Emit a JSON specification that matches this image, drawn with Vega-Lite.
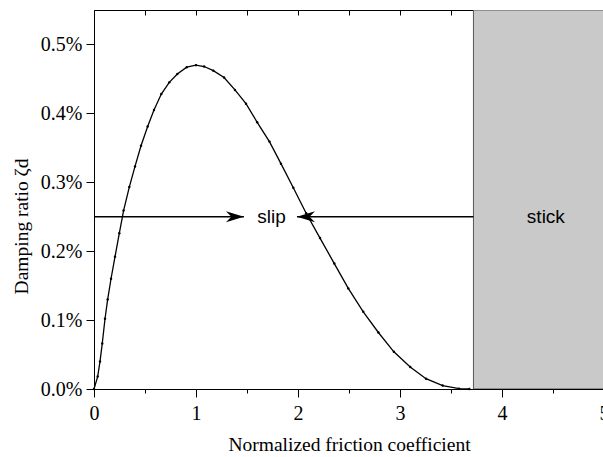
{
  "$schema": "https://vega.github.io/schema/vega-lite/v6.json",
  "width": 510,
  "height": 379,
  "autosize": "none",
  "padding": {"left": 94, "top": 10, "right": 0, "bottom": 68},
  "background": "white",
  "config": {
    "view": {"stroke": "black", "strokeWidth": 1},
    "axis": {
      "domainColor": "black",
      "tickColor": "black",
      "labelFont": "Liberation Serif",
      "labelFontSize": 20,
      "labelColor": "black",
      "titleFont": "Liberation Serif",
      "titleFontSize": 19.5,
      "titleFontWeight": "normal",
      "titleColor": "black",
      "grid": false
    }
  },
  "datasets": {
    "curve": [
      {"x": 0, "y": 0},
      {"x": 0.036, "y": 0.00018},
      {"x": 0.059, "y": 0.0004},
      {"x": 0.081, "y": 0.00066},
      {"x": 0.108, "y": 0.00102},
      {"x": 0.134, "y": 0.0013},
      {"x": 0.167, "y": 0.0016},
      {"x": 0.206, "y": 0.00192},
      {"x": 0.248, "y": 0.00226},
      {"x": 0.29, "y": 0.00259},
      {"x": 0.346, "y": 0.00293},
      {"x": 0.402, "y": 0.00323},
      {"x": 0.461, "y": 0.00353},
      {"x": 0.526, "y": 0.00381},
      {"x": 0.588, "y": 0.00405},
      {"x": 0.66, "y": 0.00428},
      {"x": 0.738, "y": 0.00445},
      {"x": 0.817, "y": 0.00457},
      {"x": 0.909, "y": 0.00467},
      {"x": 1.0, "y": 0.0047},
      {"x": 1.08, "y": 0.00468},
      {"x": 1.17, "y": 0.00462},
      {"x": 1.275, "y": 0.00452},
      {"x": 1.382, "y": 0.00434},
      {"x": 1.49, "y": 0.00414},
      {"x": 1.6, "y": 0.00387},
      {"x": 1.72, "y": 0.00359},
      {"x": 1.833, "y": 0.00327},
      {"x": 1.954, "y": 0.00292},
      {"x": 2.08, "y": 0.00255},
      {"x": 2.216, "y": 0.00219},
      {"x": 2.356, "y": 0.00182},
      {"x": 2.493, "y": 0.00146},
      {"x": 2.64, "y": 0.00112},
      {"x": 2.788, "y": 0.00082},
      {"x": 2.94, "y": 0.00054},
      {"x": 3.1, "y": 0.00032},
      {"x": 3.255, "y": 0.00015},
      {"x": 3.418, "y": 0.00005},
      {"x": 3.58, "y": 0.000005},
      {"x": 3.68, "y": 0}
    ],
    "region": [{"x": 3.72, "x2": 5, "y": 0, "y2": 0.0055}],
    "arrows": [
      {"x": 0, "x2": 1.47, "y": 0.0025, "dir": "right"},
      {"x": 1.99, "x2": 3.72, "y": 0.0025, "dir": "left"}
    ],
    "labels": [
      {"x": 1.74, "y": 0.0025, "text": "slip"},
      {"x": 4.43, "y": 0.0025, "text": "stick"}
    ]
  },
  "layer": [
    {
      "data": {"name": "region"},
      "mark": {"type": "rect", "fill": "#c9c9c9", "stroke": "#555555", "strokeWidth": 1, "clip": true},
      "encoding": {
        "x": {
          "field": "x", "type": "quantitative",
          "scale": {"domain": [0, 5], "nice": false},
          "axis": {
            "orient": "top", "title": null, "labels": false, "domain": false,
            "values": [0, 0.5, 1, 1.5, 2, 2.5, 3, 3.5, 4, 4.5, 5],
            "tickSize": -5
          }
        },
        "x2": {"field": "x2"},
        "y": {"field": "y", "type": "quantitative"},
        "y2": {"field": "y2"}
      }
    },
    {
      "data": {"name": "arrows"},
      "mark": {"type": "rule", "color": "black", "strokeWidth": 1.3},
      "encoding": {
        "x": {"field": "x", "type": "quantitative", "axis": null},
        "x2": {"field": "x2"},
        "y": {"field": "y", "type": "quantitative"}
      }
    },
    {
      "data": {"name": "arrows"},
      "mark": {"type": "point", "filled": true, "color": "black", "size": 324, "opacity": 1},
      "encoding": {
        "x": {"field": "tip", "type": "quantitative", "axis": null},
        "y": {"field": "y", "type": "quantitative"},
        "shape": {
          "condition": {"test": "datum.dir === 'right'", "value": "M0,0 L-2,-0.6 L-1.4,0 L-2,0.6 Z"},
          "value": "M0,0 L2,-0.6 L1.4,0 L2,0.6 Z"
        }
      },
      "transform": [{"calculate": "datum.dir === 'right' ? datum.x2 : datum.x", "as": "tip"}]
    },
    {
      "data": {"name": "curve"},
      "mark": {
        "type": "line", "color": "black", "strokeWidth": 1.3,
        "point": {"filled": true, "size": 6, "color": "black"}
      },
      "encoding": {
        "x": {
          "field": "x", "type": "quantitative",
          "scale": {"domain": [0, 5], "nice": false},
          "axis": {
            "title": "Normalized friction coefficient",
            "orient": "bottom",
            "values": [0, 0.5, 1, 1.5, 2, 2.5, 3, 3.5, 4, 4.5, 5],
            "labelExpr": "datum.value % 1 === 0 ? format(datum.value, 'd') : ''",
            "tickSize": {"condition": {"test": "datum.value % 1 === 0", "value": 8}, "value": 4},
            "labelPadding": 6,
            "titlePadding": 12,
            "labelFlush": false,
            "labelOverlap": false
          }
        },
        "y": {
          "field": "y", "type": "quantitative",
          "scale": {"domain": [0, 0.0055], "nice": false},
          "axis": {
            "title": "Damping ratio ζd",
            "orient": "left",
            "values": [0, 0.0005, 0.001, 0.0015, 0.002, 0.0025, 0.003, 0.0035, 0.004, 0.0045, 0.005],
            "labelExpr": "round(datum.value * 2000) % 2 === 0 ? format(datum.value, '.1%') : ''",
            "tickSize": {"condition": {"test": "round(datum.value * 2000) % 2 === 0", "value": 8}, "value": 4},
            "labelPadding": 4,
            "titlePadding": 9,
            "titleY": 216,
            "labelOverlap": false,
            "labelFlush": false
          }
        }
      }
    },
    {
      "data": {"name": "labels"},
      "mark": {"type": "text", "font": "Liberation Sans", "fontSize": 19, "color": "black", "align": "center", "baseline": "middle"},
      "encoding": {
        "x": {"field": "x", "type": "quantitative", "axis": null},
        "y": {"field": "y", "type": "quantitative"},
        "text": {"field": "text"}
      }
    }
  ],
  "resolve": {"axis": {"x": "independent"}}
}
